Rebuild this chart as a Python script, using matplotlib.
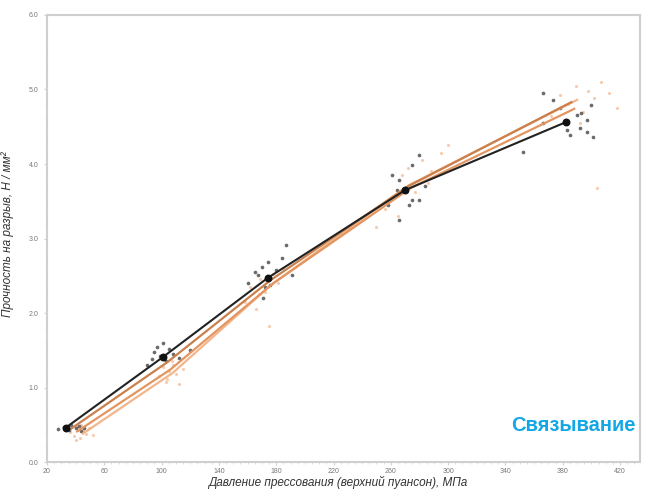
import matplotlib.pyplot as plt
import numpy as np
from matplotlib.ticker import MultipleLocator, FixedLocator

# средние значения по группам давления
black_x = [33, 101, 174, 270, 382]
black_y = [0.46, 1.41, 2.47, 3.65, 4.56]
or1_x = [37, 104, 176, 272, 386]
or1_y = [0.45, 1.34, 2.44, 3.70, 4.83]
or2_x = [41, 106, 178, 274, 388]
or2_y = [0.41, 1.24, 2.40, 3.68, 4.74]
or3_x = [45, 108, 176, 273, 390]
or3_y = [0.38, 1.20, 2.37, 3.72, 4.86]

x_ticks = [20, 60, 100, 140, 180, 220, 260, 300, 340, 380, 420]

# отдельные измерения
pts_bx = [28, 32, 35, 37, 40, 42, 44, 46,
          90, 93, 95, 97, 99, 101, 103, 105, 108, 112, 120,
          160, 165, 167, 170, 172, 174, 176, 180, 184, 187, 191, 171,
          258, 261, 264, 266, 266, 273, 275, 275, 280, 280, 284,
          352, 366, 366, 373, 378, 383, 385, 390, 392, 393, 397, 397, 400, 401]
pts_by = [0.44, 0.47, 0.43, 0.50, 0.45, 0.48, 0.42, 0.46,
          1.30, 1.38, 1.47, 1.55, 1.42, 1.60, 1.35, 1.52, 1.45, 1.40, 1.50,
          2.40, 2.55, 2.51, 2.62, 2.35, 2.68, 2.38, 2.58, 2.74, 2.91, 2.51, 2.20,
          3.45, 3.85, 3.65, 3.79, 3.25, 3.45, 3.99, 3.52, 4.12, 3.52, 3.70,
          4.16, 4.95, 4.55, 4.86, 4.75, 4.46, 4.39, 4.66, 4.48, 4.68, 4.59, 4.43, 4.79, 4.36]
pts_ox = [36, 39, 41, 43, 45, 47, 49, 52, 40, 44,
          98, 101, 103, 105, 107, 110, 112, 115, 104, 108,
          158, 162, 166, 169, 172, 175, 178, 181, 185, 168, 174,
          250, 256, 262, 268, 272, 277, 282, 288, 295, 300, 265, 286,
          372, 378, 384, 389, 394, 398, 402, 407, 412, 418, 404, 392]
pts_oy = [0.40, 0.35, 0.47, 0.32, 0.43, 0.38, 0.45, 0.36, 0.30, 0.50,
          1.15, 1.28, 1.08, 1.22, 1.35, 1.18, 1.05, 1.25, 1.12, 1.30,
          2.15, 2.35, 2.05, 2.45, 2.28, 1.82, 2.52, 2.40, 2.60, 2.25, 2.48,
          3.15, 3.40, 3.55, 3.85, 3.95, 3.62, 4.05, 3.90, 4.15, 4.25, 3.30, 3.75,
          4.65, 4.92, 4.80, 5.05, 4.70, 4.98, 4.88, 5.10, 4.95, 4.75, 3.68, 4.55]

plt.rcParams['font.family'] = ['Liberation Sans', 'DejaVu Sans']

fig = plt.figure(figsize=(6.46, 4.90), dpi=100)
ax = fig.add_axes([0.0728, 0.0571, 0.918, 0.9123])

ax.scatter(pts_ox, pts_oy, s=5, color='#f0a878', alpha=0.6, linewidths=0, zorder=2)
ax.scatter(pts_bx, pts_by, s=7, color='#3a3a3a', alpha=0.75, linewidths=0, zorder=3)

ax.plot(or3_x, or3_y, color='#f3b58a', lw=1.6, zorder=4)
ax.plot(or2_x, or2_y, color='#e39560', lw=1.6, zorder=4)
ax.plot(or1_x, or1_y, color='#c9804d', lw=1.6, zorder=4)
ax.plot(black_x, black_y, color='#222222', lw=1.5, zorder=5)
ax.scatter(black_x, black_y, s=22, color='#111111', zorder=6)

ax.set_xlim(20, 434)
ax.set_ylim(0, 6)
ax.xaxis.set_major_locator(FixedLocator(x_ticks))
ax.xaxis.set_minor_locator(MultipleLocator(5))
ax.yaxis.set_major_locator(MultipleLocator(1))
ax.yaxis.set_minor_locator(MultipleLocator(0.2))
ax.yaxis.set_major_formatter(plt.FormatStrFormatter('%.1f'))

for s in ax.spines.values():
    s.set_color('#cfcfcf')
    s.set_linewidth(1.5)
ax.tick_params(which='major', length=2, color='#d0d0d0', labelsize=5, labelcolor='#777777')
ax.tick_params(axis='x', which='major', pad=2)
ax.tick_params(axis='y', which='major', pad=4)
ax.tick_params(which='minor', length=1.5, color='#d8d8d8')

ax.set_xlabel('Давление прессования (верхний пуансон), МПа', fontsize=8.5,
              style='italic', color='#333333')
ax.set_ylabel('Прочность на разрыв, Н / мм²', fontsize=8.5,
              style='italic', color='#333333')
ax.xaxis.set_label_coords(0.49, -0.031)
ax.yaxis.set_label_coords(-0.056, 0.51)

fig.text(0.984, 0.132, 'Связывание', ha='right', va='center', fontsize=14.5,
         fontweight='bold', color='#14a7e6')

fig.savefig('out.png', dpi=100)
